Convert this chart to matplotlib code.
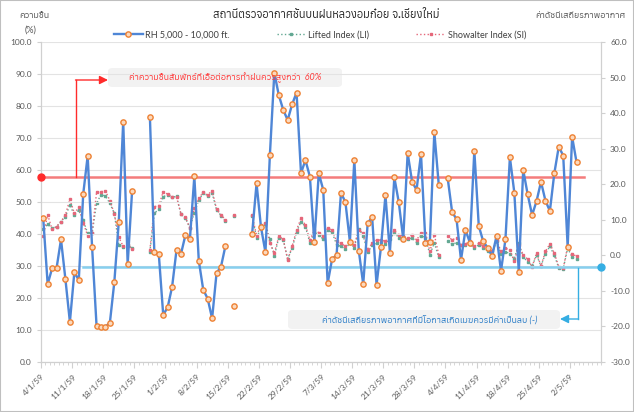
import numpy as np
import matplotlib
matplotlib.use('Agg')
import matplotlib.pyplot as plt
import matplotlib.transforms as mtransforms
from matplotlib import font_manager as fm
from matplotlib.ft2font import FT2Font
from matplotlib.lines import Line2D
from matplotlib.patches import FancyBboxPatch, Rectangle

nan = np.nan

# weekly tick labels (Thai Buddhist year 2559), one day per category
tick_labels = ['4/1/59', '11/1/59', '18/1/59', '25/1/59', '1/2/59', '8/2/59',
               '15/2/59', '22/2/59', '29/2/59', '7/3/59', '14/3/59', '21/3/59',
               '28/3/59', '4/4/59', '11/4/59', '18/4/59', '25/4/59', '2/5/59']

# relative humidity 5,000 - 10,000 ft (%)
rh = [44.9, 24.3, 29.3, 29.3, 38.3, 25.8, 12.5,
      28.0, 25.6, 52.5, 64.4, 35.8, 11.3, 11.0,
      11.0, 12.3, 25.0, 43.8, 75.1, 30.6, 53.5,
      nan, nan, nan, 76.7, 34.3, 33.8, 14.7,
      17.1, 23.5, 35.1, 33.8, 39.7, 38.3, 58.0,
      31.7, 22.6, 19.8, 13.6, 27.8, 29.8, 36.3,
      nan, 17.5, nan, nan, nan, 40.0, 55.8,
      42.1, 34.3, 64.7, 90.4, 83.4, 78.8, 75.6,
      80.5, 84.2, 59.0, 63.1, 57.9, 37.5, 59.0,
      53.8, 24.6, 32.2, 33.4, 52.9, 49.9, 37.6,
      63.1, 34.8, 24.3, 43.3, 45.4, 24.1, 36.0,
      52.1, 34.2, 57.7, 49.9, 38.5, 65.3, 56.3,
      53.8, 65.0, 37.3, 37.6, 71.8, 55.3, nan,
      57.5, 46.9, 44.6, 31.9, 41.3, 37.3, 66.0,
      42.5, 37.7, 35.7, 33.1, 39.4, 28.5, 38.3,
      64.0, 52.9, 28.2, 60.0, 52.4, 45.9, 50.3,
      56.3, 50.4, 47.2, 59.0, 67.3, 64.5, 36.0,
      70.4, 62.4]

# lifted index
li = [7.5, 8.7, 7.6, 8.0, 9.5, 10.9, 14.2,
      11.3, 12.7, 9.9, 6.2, 6.2, 14.6, 17.1,
      16.7, 14.6, 11.8, 2.9, 2.4, 2.9, 2.0,
      nan, nan, nan, 1.0, 11.8, 13.0, 16.5,
      17.0, 16.3, 16.6, 11.5, 10.4, 7.8, 12.0,
      15.5, 17.5, 16.8, 17.5, 12.8, 11.2, 9.6,
      nan, 11.0, nan, nan, nan, 11.0, 5.0,
      7.6, 8.8, 4.5, -0.2, 5.0, 4.4, -1.0,
      2.0, 6.5, 9.5, 8.0, 3.5, 6.5, 5.8,
      4.5, 7.0, 6.5, 3.0, 2.5, 1.8, 3.5,
      2.2, 7.5, 5.5, 0.8, 2.8, 3.5, 3.8,
      3.2, 4.6, 6.3, 5.0, 4.8, 4.5, 4.9,
      3.6, 5.5, 5.0, 0.2, 3.5, -0.6, nan,
      3.9, 3.2, 3.5, 3.0, 3.0, 3.2, 2.0,
      3.0, 2.0, 1.3, 0.5, 4.0, 0.4, 1.0,
      0.5, -1.0, 3.5, -0.5, -1.8, -3.0, 0.0,
      -3.0, 0.5, 2.5, 0.0, -3.5, -3.8, 2.0,
      -0.5, -1.0]

# showalter index
si = [5.3, 11.4, 7.3, 8.1, 9.5, 11.4, 15.8,
      11.8, 13.5, 9.2, 5.5, 6.4, 17.7, 17.9,
      18.1, 15.4, 11.7, 5.1, 2.5, 2.9, 1.7,
      nan, nan, nan, 1.5, 13.7, 13.9, 17.9,
      17.2, 16.5, 16.3, 11.7, 10.7, 7.6, 13.2,
      16.1, 17.7, 17.0, 18.2, 13.0, 11.4, 10.0,
      nan, 11.4, nan, nan, nan, 11.4, 5.5,
      8.5, 9.0, 3.4, 0.6, 5.3, 4.6, -1.3,
      2.5, 7.1, 10.4, 8.5, 4.3, 7.1, 6.4,
      5.3, 7.6, 7.1, 3.9, 3.4, 2.5, 3.9,
      2.9, 7.1, 6.2, 1.5, 3.4, 4.3, 4.3,
      3.9, 5.3, 7.0, 5.7, 5.5, 4.8, 5.8,
      4.3, 6.2, 6.4, 1.1, 5.8, 0.1, nan,
      5.5, 4.3, 5.0, 2.9, 3.2, 3.9, 2.5,
      3.4, 2.5, 2.0, 1.1, 4.3, 1.1, 2.0,
      1.5, -1.7, 2.9, 0.1, -1.1, -3.2, 0.6,
      -3.0, 1.1, 3.2, 0.6, -3.2, -3.6, 2.5,
      0.3, -0.2]

rh_limit = 57.7      # reference line drawn on the humidity axis
index_limit = -3.3   # reference line drawn on the index axis

# ---- find a font that can draw Thai
def has_thai(path):
    try:
        return 0x0E01 in FT2Font(path).get_charmap()
    except Exception:
        return False

names = []
seen = set()
for f in fm.fontManager.ttflist:
    if f.fname in seen:
        continue
    seen.add(f.fname)
    if has_thai(f.fname):
        names.append(f.name)
names = sorted(set(names), key=lambda n: (('Mono' in n) + ('Serif' in n), n))
thai = names[0] if names else 'DejaVu Sans'
fam = ['Lato', thai, 'DejaVu Sans']
plt.rcParams['font.family'] = fam

W, H = 634, 412
fig = plt.figure(figsize=(W / 100, H / 100), dpi=100)

def px(x, y):
    return (x / W, 1 - y / H)

ax = fig.add_axes([41 / W, 1 - 362 / H, 560 / W, 320 / H])
ax2 = ax.twinx()

days = np.arange(len(rh)) + 0.5
rh_c = '#4f86d6'
li_c = '#63a893'
si_c = '#e5677a'

ax2.plot(days, li, ls=':', lw=1.0, color=li_c, marker='s', ms=1.8, mec=li_c, mfc=li_c,
         label='Lifted Index (LI)')
ax2.plot(days, si, ls=':', lw=1.0, color=si_c, marker='s', ms=1.8, mec=si_c, mfc=si_c,
         label='Showalter Index (SI)')
ax.plot(days, rh, '-', lw=1.7, color=rh_c, marker='o', ms=3.8, mfc='#fbd9bd',
        mec='#ee8234', mew=1.0, label='RH 5,000 - 10,000 ft.', zorder=4)

ax.set_zorder(ax2.get_zorder() + 1)
ax.patch.set_visible(False)

ax.set_xlim(0, 126)
ax.set_ylim(0, 100)
ax2.set_ylim(-30, 60)
ax.set_yticks(np.arange(0, 101, 10))
ax2.set_yticks(np.arange(-30, 61, 10))
ax.set_yticklabels([f'{v:.1f}' for v in np.arange(0, 101, 10)])
ax2.set_yticklabels([f'{v:.1f}' for v in np.arange(-30, 61, 10)])
ax.set_xticks(np.arange(len(tick_labels)) * 7)
ax.set_xticks(np.arange(0, 127), minor=True)
ax.set_xticklabels(tick_labels, rotation=45, ha='right', rotation_mode='anchor')

ax.grid(axis='y', color='#e3e3e3', lw=0.8)
ax.set_axisbelow(True)
for a in (ax, ax2):
    for s in a.spines.values():
        s.set_color('#d0d0d0')
    a.spines['top'].set_visible(False)
    a.tick_params(colors='#d0d0d0', labelcolor='#595959', labelsize=6, length=3, width=0.8)
ax.tick_params(axis='x', which='minor', length=2, colors='#d0d0d0')
ax.tick_params(axis='x', which='major', length=4, pad=4)

# reference lines (both drawn on the top axes so the grid does not hide them)
right_tr = mtransforms.blended_transform_factory(ax.transAxes, ax2.transData)
ax.plot([0, 0.97], [rh_limit, rh_limit], transform=ax.get_yaxis_transform(),
        color='#f47c7c', lw=1.8, zorder=2)
ax.plot([0], [rh_limit], transform=ax.get_yaxis_transform(), marker='o', ms=5,
        color='#ff2b2b', clip_on=False, zorder=5)
ax.plot([0.075, 1], [index_limit, index_limit], transform=right_tr,
        color='#86cfee', lw=1.8, zorder=2)
ax.plot([1], [index_limit], transform=right_tr, marker='o', ms=5,
        color='#35aee3', clip_on=False, zorder=5)

# connectors to the note boxes
fig.add_artist(Line2D([px(76, 0)[0]] * 2, [px(0, 177)[1], px(0, 80)[1]],
                      color='#ff2b2b', lw=1.0))
fig.add_artist(Line2D([px(578, 0)[0]] * 2, [px(0, 268)[1], px(0, 319)[1]],
                      color='#35aee3', lw=1.0))
ax.annotate('', xy=px(108, 80), xytext=px(75.5, 80), xycoords='figure fraction',
            textcoords='figure fraction',
            arrowprops=dict(arrowstyle='-|>,head_length=0.5,head_width=0.25',
                            color='#ff2b2b', lw=1.0, shrinkA=0, shrinkB=0))
ax.annotate('', xy=px(560, 319), xytext=px(578.5, 319), xycoords='figure fraction',
            textcoords='figure fraction',
            arrowprops=dict(arrowstyle='-|>,head_length=0.5,head_width=0.25',
                            color='#35aee3', lw=1.0, shrinkA=0, shrinkB=0))

# note boxes
for (x0, y0, x1, y1) in [(108, 68, 342, 87), (288, 310, 560, 329)]:
    fig.add_artist(FancyBboxPatch(px(x0, y1), (x1 - x0) / W, (y1 - y0) / H,
                                  boxstyle='round,pad=0,rounding_size=0.008',
                                  transform=fig.transFigure, fc='#f2f2f2', ec='none'))
fig.text(*px(225, 78), 'ค่าความชื้นสัมพัทธ์ที่เอื้อต่อการทำฝนควรสูงกว่า  60%', color='#ff3c3c',
         fontsize=6.5, style='italic', ha='center', va='center')
fig.text(*px(430, 320), 'ค่าดัชนีเสถียรภาพอากาศที่มีโอกาสเกิดเมฆควรมีค่าเป็นลบ (-)', color='#2f7fc8',
         fontsize=6.5, style='italic', ha='center', va='center')

# titles
fig.text(*px(326, 15), 'สถานีตรวจอากาศชั้นบนฝนหลวงอมก๋อย จ.เชียงใหม่', fontsize=8,
         fontweight='bold', ha='center', va='center', color='#262626')
fig.text(*px(34, 15), 'ความชื้น', fontsize=6.5, ha='center', va='center', color='#595959')
fig.text(*px(31, 30), '(%)', fontsize=6.5, ha='center', va='center', color='#595959')
fig.text(*px(626, 15), 'ค่าดัชนีเสถียรภาพอากาศ', fontsize=6.5, ha='right', va='center',
         color='#595959')

h1, l1 = ax.get_legend_handles_labels()
h2, l2 = ax2.get_legend_handles_labels()
fig.legend(h1 + h2, l1 + l2, loc='center', bbox_to_anchor=px(320, 35), ncol=3,
           frameon=False, fontsize=6.5, columnspacing=5.2, handlelength=3.2,
           handletextpad=0.3, labelcolor='#404040')

fig.add_artist(Rectangle((0, 0), 1, 1, transform=fig.transFigure, fill=False,
                         ec='#bfbfbf', lw=1.5))

fig.savefig('out.png', dpi=100)
